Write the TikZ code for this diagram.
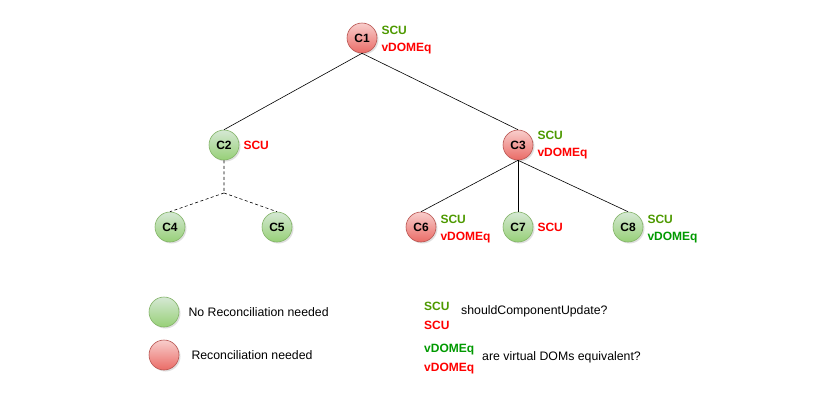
\documentclass[tikz,border=0pt]{standalone}
\usepackage{fontspec}
\setmainfont{Liberation Sans}
\usetikzlibrary{positioning,shadows}
\definecolor{okfill}{HTML}{D5E8D4}
\definecolor{okfilldark}{HTML}{97D077}
\definecolor{okline}{HTML}{82B366}
\definecolor{badfill}{HTML}{F8CECC}
\definecolor{badfilldark}{HTML}{EA6B66}
\definecolor{badline}{HTML}{B85450}
\definecolor{tagok}{HTML}{4D9900}
\definecolor{tageq}{HTML}{009900}
\definecolor{tagbad}{HTML}{FF0000}
\newcommand{\scuok}{\textcolor{tagok}{SCU}}
\newcommand{\scubad}{\textcolor{tagbad}{SCU}}
\newcommand{\eqok}{\textcolor{tageq}{vDOMEq}}
\newcommand{\eqbad}{\textcolor{tagbad}{vDOMEq}}
\begin{document}
\begin{tikzpicture}[x=1pt,y=-1pt,
  comp/.style={circle,minimum size=30pt,inner sep=0pt,line width=0.6pt,
    font=\fontsize{12}{14}\selectfont\bfseries,drop shadow={opacity=0.25,shadow xshift=1.5pt,shadow yshift=-1.5pt}},
  okcomp/.style={comp,draw=okline,top color=okfill,bottom color=okfilldark},
  badcomp/.style={comp,draw=badline,top color=badfill,bottom color=badfilldark},
  tag/.style={inner sep=0pt,align=left,font=\fontsize{12}{16.5}\selectfont\bfseries},
  pair/.style={tag,yshift=-2pt},
  keytag/.style={tag,anchor=west,font=\fontsize{12}{19}\selectfont\bfseries},
  legend/.style={inner sep=0pt,anchor=west,font=\fontsize{12.3}{14}\selectfont},
  tree/.style={line width=0.6pt},
  skip/.style={tree,dashed,dash pattern=on 3pt off 2.5pt}]
\useasboundingbox (0,0) rectangle (818,405);
% components
\node[badcomp] (c1) at (362,38) {C1};
\node[okcomp] (c2) at (224,145) {C2};
\node[badcomp] (c3) at (518,145) {C3};
\node[okcomp] (c4) at (170,227) {C4};
\node[okcomp] (c5) at (277,227) {C5};
\node[badcomp] (c6) at (421,227) {C6};
\node[okcomp] (c7) at (518,227) {C7};
\node[okcomp] (c8) at (628,227) {C8};
% checks
\node[pair,right=4pt of c1] (t1) {\scuok\\\eqbad};
\node[tag,right=4pt of c2] (t2) {\scubad};
\node[tag,right=4pt of c3] (t3) {\scuok\\\eqbad};
\node[pair,right=4pt of c6] (t6) {\scuok\\\eqbad};
\node[tag,right=4pt of c7] (t7) {\scubad};
\node[pair,right=4pt of c8] (t8) {\scuok\\\eqok};
% edges
\draw[tree] (c1.south) -- (c2.north);
\draw[tree] (c1.south) -- (c3.north);
\coordinate (j2) at (224,193);
\draw[skip] (c2.south) -- (j2) (j2) -- (c4.north) (j2) -- (c5.north);
\foreach \k in {6,7,8}
  \draw[tree] (c3.south) -- (c\k.north);
% legend
\node[okcomp] (lok) at (164,312) {};
\node[badcomp] (lbad) at (164,355) {};
\node[legend,right=9pt of lok] (lokt) {No Reconciliation needed};
\node[legend,right=12pt of lbad] (lbadt) {Reconciliation needed};
\node[keytag] (lscu) at (424,316) {\scuok\\\scubad};
\node[legend] (lscut) at (461,311) {shouldComponentUpdate?};
\node[keytag] (leq) at (424,359) {\eqok\\\eqbad};
\node[legend] (leqt) at (482,357) {are virtual DOMs equivalent?};
\end{tikzpicture}
\end{document}
